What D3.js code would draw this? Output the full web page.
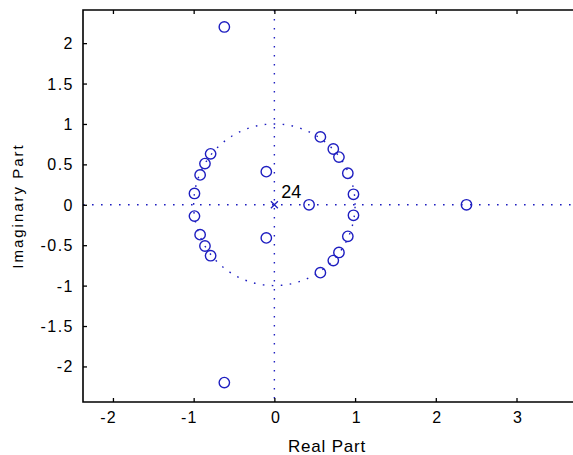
<!DOCTYPE html>
<html>
<head>
<meta charset="utf-8">
<script src="https://cdn.jsdelivr.net/npm/d3@7"></script>
<style>
  html, body { margin: 0; padding: 0; background: #fff; }
  svg { display: block; }
  text { font-family: "Liberation Sans", Arial, sans-serif; fill: #000; }
</style>
</head>
<body>
<svg id="chart" width="573" height="455"></svg>
<script>
// Zeros of the filter (real and imaginary parts)
const zeroRe = [-0.62, -0.62, 2.38, 0.43, -0.10, -0.10,
                -0.79, -0.79, -0.86, -0.86, -0.92, -0.92, -0.99, -0.99,
                 0.57,  0.57,  0.73,  0.73,  0.80,  0.80,  0.91,  0.91,  0.98,  0.98];
const zeroIm = [ 2.20, -2.20, 0.00, 0.00,  0.41, -0.41,
                 0.63, -0.63,  0.51, -0.51,  0.37, -0.37,  0.14, -0.14,
                 0.84, -0.84,  0.69, -0.69,  0.59, -0.59,  0.39, -0.39,  0.13, -0.13];
// Poles: a single pole location with its multiplicity
const poleRe = [0];
const poleIm = [0];
const poleMult = ["24"];

const xTicks = [-2, -1, 0, 1, 2, 3];
const yTicks = [-2, -1.5, -1, -0.5, 0, 0.5, 1, 1.5, 2];
const xTitle = "Real Part";
const yTitle = "Imaginary Part";

const svg = d3.select("#chart");
const L = 83, T = 10, R = 576, B = 402;
const blue = "#1e1ec0";

const x = d3.scaleLinear().domain([-2.371, 3.737]).range([L, R]);
const y = d3.scaleLinear().domain([-2.44, 2.41]).range([B, T]);

svg.append("defs").append("clipPath").attr("id", "plotClip")
  .append("rect").attr("x", L).attr("y", T).attr("width", R - L).attr("height", B - T);

const plot = svg.append("g").attr("clip-path", "url(#plotClip)");

// dotted reference lines: real axis, imaginary axis, unit circle
const dots = "1.6,7.4";
plot.append("line")
  .attr("x1", x.range()[0]).attr("x2", x.range()[1])
  .attr("y1", y(0)).attr("y2", y(0))
  .attr("stroke", blue).attr("stroke-width", 1.4).attr("stroke-dasharray", dots);
plot.append("line")
  .attr("x1", x(0)).attr("x2", x(0))
  .attr("y1", y.range()[1]).attr("y2", y.range()[0])
  .attr("stroke", blue).attr("stroke-width", 1.4).attr("stroke-dasharray", dots);
const circ = d3.range(0, 361, 1).map(a => [Math.cos(a * Math.PI / 180), Math.sin(a * Math.PI / 180)]);
plot.append("path")
  .attr("d", d3.line().x(d => x(d[0])).y(d => y(d[1]))(circ))
  .attr("fill", "none").attr("stroke", blue).attr("stroke-width", 1.4)
  .attr("stroke-dasharray", dots);

// zeros as open circles
plot.selectAll("circle.zero").data(d3.range(zeroRe.length)).join("circle")
  .attr("class", "zero")
  .attr("cx", i => x(zeroRe[i])).attr("cy", i => y(zeroIm[i]))
  .attr("r", 5.2).attr("fill", "none").attr("stroke", blue).attr("stroke-width", 1.4);

// poles as crosses with multiplicity label
poleRe.forEach((re, i) => {
  const cx = x(re), cy = y(poleIm[i]), s = 3.5;
  plot.append("path")
    .attr("d", `M${cx - s},${cy - s}L${cx + s},${cy + s}M${cx - s},${cy + s}L${cx + s},${cy - s}`)
    .attr("stroke", blue).attr("stroke-width", 1.3);
  svg.append("text")
    .attr("x", cx + 7).attr("y", cy - 7)
    .attr("font-size", 18).text(poleMult[i]);
});

// axes with inward ticks
const fmt = d => String(d);
const gx = svg.append("g").attr("transform", `translate(0,${B})`)
  .call(d3.axisBottom(x).tickValues(xTicks).tickSize(-4).tickPadding(10).tickFormat(fmt));
gx.selectAll("text").attr("font-size", 16).attr("letter-spacing", "1px")
  .attr("dx", d => d < 0 ? "-5px" : "1px");
const gt = svg.append("g").attr("transform", `translate(0,${T})`)
  .call(d3.axisTop(x).tickValues(xTicks).tickSize(-4).tickFormat(""));
const gy = svg.append("g").attr("transform", `translate(${L},0)`)
  .call(d3.axisLeft(y).tickValues(yTicks).tickSize(-4).tickPadding(9).tickFormat(fmt));
gy.selectAll("text").attr("font-size", 16).attr("letter-spacing", "1.5px").attr("dy", "0.34em");

[gx, gt, gy].forEach(g => {
  g.select(".domain").remove();
  g.selectAll(".tick line").attr("stroke", "#000").attr("stroke-width", 1.3);
  g.selectAll("text").attr("fill", "#000").attr("font-family", "Liberation Sans, Arial, sans-serif");
});

// axes box (left, top, bottom)
svg.append("path")
  .attr("d", `M${R},${T}H${L}V${B}H${R}`)
  .attr("fill", "none").attr("stroke", "#000").attr("stroke-width", 1.6);

// axis titles
svg.append("text")
  .attr("x", 327).attr("y", 452)
  .attr("text-anchor", "middle").attr("font-size", 17).attr("letter-spacing", "0.8px")
  .text(xTitle);
svg.append("text")
  .attr("transform", "translate(23,206) rotate(-90)")
  .attr("text-anchor", "middle").attr("font-size", 15).attr("letter-spacing", "2px")
  .text(yTitle);
</script>
</body>
</html>
